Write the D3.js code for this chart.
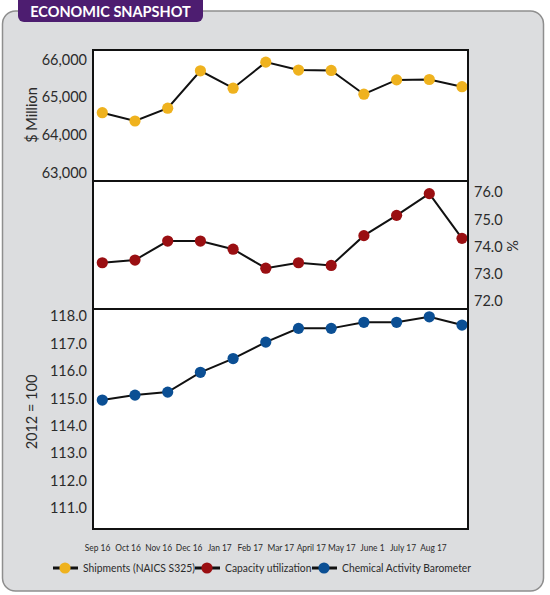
<!DOCTYPE html>
<html><head><meta charset="utf-8">
<script src="https://cdn.jsdelivr.net/npm/d3@7"></script>
<style>
html,body{margin:0;padding:0;background:#fff;}
svg{display:block;font-family:Lato,"Open Sans",sans-serif;}
</style></head>
<body>
<svg id="chart" width="550" height="595"></svg>
<script>
const months = ["Sep 16","Oct 16","Nov 16","Dec 16","Jan 17","Feb 17","Mar 17","April 17","May 17","June 1","July 17","Aug 17"];
const shipments = [64590,64370,64710,65700,65240,65930,65720,65710,65080,65460,65470,65280];
const capacity = [73.4,73.5,74.2,74.2,73.9,73.2,73.4,73.3,74.4,75.15,75.95,74.3];
const cab = [114.94,115.12,115.23,115.95,116.45,117.05,117.55,117.55,117.77,117.77,117.97,117.67];
const topTicks = [63000,64000,65000,66000];
const midTicks = [72,73,74,75,76];
const botTicks = [111,112,113,114,115,116,117,118];
const seriesNames = ["Shipments (NAICS S325)","Capacity utilization","Chemical Activity Barometer"];
const seriesColors = ["#efb21e","#9a0f12","#0b4f94"];

const svg = d3.select("#chart");
const plotL = 93, plotR = 468, plotT = 50, div1 = 181, div2 = 309, plotB = 529;

// outer panel
svg.append("rect").attr("x",2.5).attr("y",11).attr("width",541).attr("height",580)
  .attr("rx",13).attr("fill","#dcdddf").attr("stroke","#8e8e8e").attr("stroke-width",1.5);
// header tab
svg.append("rect").attr("x",18).attr("y",-8).attr("width",185).attr("height",30).attr("rx",6)
  .attr("fill","#4d1d70");
svg.append("text").attr("x",110.5).attr("y",16.5).attr("text-anchor","middle")
  .attr("fill","#fff").attr("font-weight","700").attr("font-size",14.5).text("ECONOMIC SNAPSHOT");

// plot background
svg.append("rect").attr("x",plotL).attr("y",plotT).attr("width",plotR-plotL).attr("height",plotB-plotT)
  .attr("fill","#fff");

const x = d3.scalePoint().domain(months).range([102.3,462]);
const xLab = d3.scalePoint().domain(months).range([97,433]);
const yTop = d3.scaleLinear().domain([63000,66000]).range([172.7,59.5]);
const yMid = d3.scaleLinear().domain([72,76]).range([300.7,192.3]);
const yBot = d3.scaleLinear().domain([111,118]).range([508.3,316]);

function styleAxis(g){
  g.select(".domain").remove();
  g.selectAll(".tick line").remove();
  g.selectAll("text").attr("font-family","Lato,sans-serif").attr("font-size",14.5).attr("fill","#2b2b2b");
}
svg.append("g").attr("transform",`translate(87,0)`)
  .call(d3.axisLeft(yTop).tickValues(topTicks).tickFormat(d3.format(",")).tickSize(0).tickPadding(0))
  .call(styleAxis);
svg.append("g").attr("transform",`translate(87,0)`)
  .call(d3.axisLeft(yBot).tickValues(botTicks).tickFormat(d3.format(".1f")).tickSize(0).tickPadding(0))
  .call(styleAxis);
svg.append("g").attr("transform",`translate(474,0)`)
  .call(d3.axisRight(yMid).tickValues(midTicks).tickFormat(d3.format(".1f")).tickSize(0).tickPadding(0))
  .call(styleAxis);

// x labels (condensed look)
svg.append("g").attr("transform",`translate(0,547)`)
  .call(d3.axisBottom(xLab).tickSize(0).tickPadding(0))
  .call(g=>{g.select(".domain").remove();
    g.selectAll("text").attr("font-size",10).attr("fill","#2b2b2b").attr("dy","0.35em")
      .attr("font-family","Lato,sans-serif").attr("transform","scale(0.84,1)");});

// axis titles
svg.append("text").attr("transform","translate(37,115) rotate(-90)").attr("text-anchor","middle")
  .attr("font-size",14.5).attr("fill","#2b2b2b").text("$ Million");
svg.append("text").attr("transform","translate(37,412) rotate(-90)").attr("text-anchor","middle")
  .attr("font-size",14.5).attr("fill","#2b2b2b").text("2012 = 100");
svg.append("text").attr("transform","translate(518,246) rotate(-90)").attr("text-anchor","middle")
  .attr("font-size",14.5).attr("fill","#2b2b2b").text("%");

// series
const panels = [[shipments,yTop],[capacity,yMid],[cab,yBot]];
panels.forEach(([vals,y],i)=>{
  const line = d3.line().x((d,j)=>x(months[j])).y(d=>y(d));
  svg.append("path").datum(vals).attr("d",line).attr("fill","none")
    .attr("stroke","#111").attr("stroke-width",2);
  svg.append("g").selectAll("circle").data(vals).join("circle")
    .attr("cx",(d,j)=>x(months[j])).attr("cy",d=>y(d)).attr("r",5.6)
    .attr("fill",seriesColors[i]);
});

// frame
svg.append("rect").attr("x",plotL).attr("y",plotT).attr("width",plotR-plotL).attr("height",plotB-plotT)
  .attr("fill","none").attr("stroke","#111").attr("stroke-width",2);
[div1,div2].forEach(yy=>svg.append("line").attr("x1",plotL).attr("x2",plotR).attr("y1",yy).attr("y2",yy)
  .attr("stroke","#111").attr("stroke-width",2));

// legend
const legX = [65,207,324];
const legG = svg.append("g").attr("transform","translate(0,568)");
seriesNames.forEach((n,i)=>{
  legG.append("line").attr("x1",legX[i]-12).attr("x2",legX[i]+13).attr("y1",0).attr("y2",0)
    .attr("stroke","#111").attr("stroke-width",3);
  legG.append("circle").attr("cx",legX[i]).attr("cy",0).attr("r",5.6).attr("fill",seriesColors[i]);
  legG.append("g").attr("transform",`translate(${legX[i]+18},0)`)
    .append("text").attr("x",0).attr("y",0).attr("dy","0.35em").attr("transform","scale(0.86,1)")
    .attr("font-size",12).attr("fill","#2b2b2b").text(n);
});
</script>
</body></html>
